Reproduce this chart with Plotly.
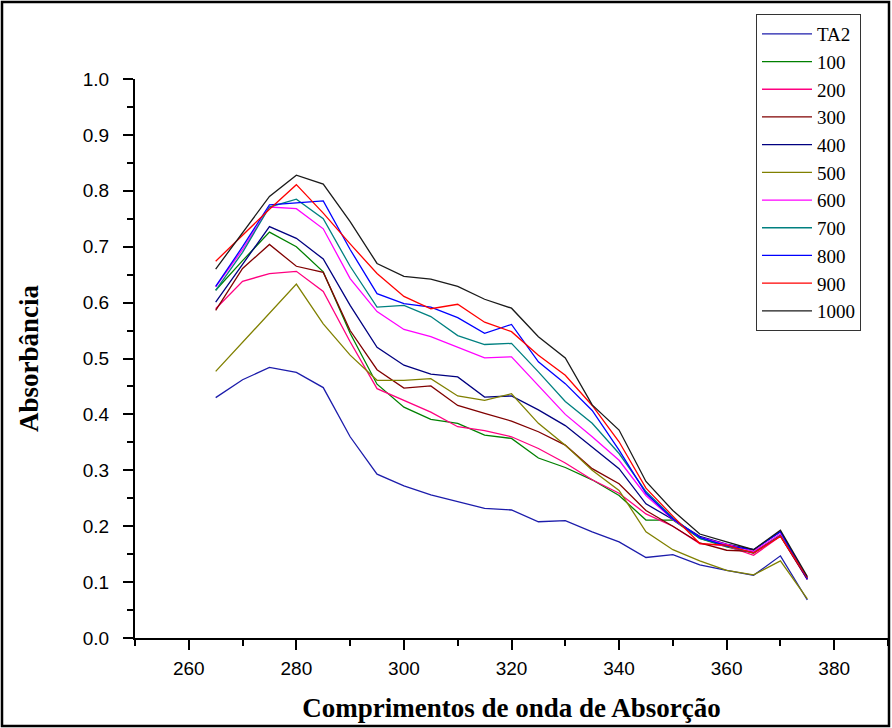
import plotly.graph_objects as go

wavelength = [265, 270, 275, 280, 285, 290, 295, 300, 305, 310, 315, 320,
              325, 330, 335, 340, 345, 350, 355, 360, 365, 370, 375]

s_TA2 = [0.430, 0.462, 0.484, 0.475, 0.448, 0.360, 0.293, 0.272, 0.256, 0.244, 0.232, 0.229,
         0.208, 0.210, 0.190, 0.172, 0.144, 0.149, 0.131, 0.121, 0.112, 0.147, 0.068]
s_100 = [0.622, 0.675, 0.726, 0.700, 0.655, 0.545, 0.454, 0.413, 0.391, 0.384, 0.363, 0.357,
         0.322, 0.305, 0.283, 0.255, 0.211, 0.211, 0.178, 0.163, 0.152, 0.184, 0.107]
s_200 = [0.589, 0.638, 0.652, 0.656, 0.620, 0.530, 0.446, 0.425, 0.404, 0.378, 0.371, 0.360,
         0.339, 0.313, 0.283, 0.259, 0.222, 0.200, 0.169, 0.165, 0.148, 0.182, 0.105]
s_300 = [0.586, 0.661, 0.704, 0.665, 0.654, 0.550, 0.480, 0.447, 0.451, 0.416, 0.402, 0.388,
         0.369, 0.345, 0.303, 0.276, 0.228, 0.200, 0.170, 0.157, 0.155, 0.182, 0.105]
s_400 = [0.601, 0.668, 0.736, 0.715, 0.678, 0.595, 0.520, 0.488, 0.472, 0.467, 0.431, 0.433,
         0.408, 0.380, 0.342, 0.303, 0.240, 0.212, 0.182, 0.168, 0.158, 0.190, 0.107]
s_500 = [0.477, 0.529, 0.581, 0.633, 0.562, 0.506, 0.461, 0.461, 0.464, 0.433, 0.425, 0.437,
         0.384, 0.345, 0.300, 0.264, 0.190, 0.158, 0.138, 0.121, 0.113, 0.138, 0.070]
s_600 = [0.628, 0.695, 0.771, 0.768, 0.732, 0.643, 0.584, 0.552, 0.539, 0.520, 0.501, 0.503,
         0.452, 0.400, 0.360, 0.318, 0.255, 0.212, 0.180, 0.167, 0.155, 0.186, 0.108]
s_700 = [0.622, 0.690, 0.771, 0.785, 0.750, 0.665, 0.592, 0.595, 0.575, 0.541, 0.525, 0.527,
         0.476, 0.423, 0.384, 0.330, 0.262, 0.215, 0.178, 0.165, 0.152, 0.183, 0.108]
s_800 = [0.629, 0.700, 0.775, 0.778, 0.782, 0.695, 0.616, 0.598, 0.592, 0.573, 0.545, 0.561,
         0.494, 0.455, 0.407, 0.336, 0.259, 0.213, 0.180, 0.165, 0.158, 0.190, 0.105]
s_900 = [0.674, 0.721, 0.767, 0.811, 0.760, 0.705, 0.652, 0.611, 0.589, 0.597, 0.565, 0.548,
         0.506, 0.470, 0.416, 0.351, 0.268, 0.218, 0.169, 0.166, 0.152, 0.182, 0.108]
s_1000 = [0.660, 0.725, 0.790, 0.828, 0.812, 0.745, 0.670, 0.647, 0.642, 0.629, 0.606, 0.590,
          0.539, 0.501, 0.417, 0.372, 0.280, 0.228, 0.186, 0.172, 0.158, 0.193, 0.110]

series_names = ["TA2", "100", "200", "300", "400", "500", "600", "700", "800", "900", "1000"]
series_values = [s_TA2, s_100, s_200, s_300, s_400, s_500, s_600, s_700, s_800, s_900, s_1000]
series_colors = ["#1c1cab", "#008000", "#ff0080", "#800000", "#000080", "#808000",
                 "#ff00ff", "#008080", "#0000ff", "#ff0000", "#1a1a1a"]

fig = go.Figure()
for name, vals, col in zip(series_names, series_values, series_colors):
    fig.add_trace(go.Scatter(x=wavelength, y=vals, mode="lines", name=name,
                             line=dict(color=col, width=1.3)))

W, H = 892, 728
L, R, T, B = 135, 4, 79, 90
pw, ph = W - L - R, H - T - B

def px2paper(x, y):
    return (x - L) / pw, (H - B - y) / ph

bx0, by0 = px2paper(2, 726)
bx1, by1 = px2paper(889, 2)

tickfont = dict(family="Liberation Sans Narrow, Liberation Sans, Arial", size=19, color="black")
titlefont = dict(family="Liberation Serif, Times New Roman", size=27, color="black", weight="bold")

fig.update_layout(
    width=W, height=H,
    margin=dict(l=L, r=R, t=T, b=B, autoexpand=False),
    paper_bgcolor="white", plot_bgcolor="white",
    showlegend=True,
    legend=dict(x=(756 - L) / pw, y=px2paper(0, 14)[1], xanchor="left", yanchor="top",
                font=dict(family="Liberation Serif", size=19, color="black"),
                bordercolor="#333333", borderwidth=1, bgcolor="white",
                itemwidth=50, tracegroupgap=0),
    xaxis=dict(range=[250, 390], tick0=260, dtick=20, ticks="outside", ticklen=10, tickwidth=2,
               tickcolor="black", ticklabelstandoff=2,
               showline=True, linecolor="black", linewidth=2, showgrid=False, zeroline=False,
               automargin=False, tickfont=tickfont,
               minor=dict(dtick=10, tick0=250, ticks="outside", ticklen=6, tickwidth=2, tickcolor="black"),
               title=dict(text="Comprimentos de onda de Absorção", standoff=20, font=titlefont)),
    yaxis=dict(range=[0, 1.0], tick0=0, dtick=0.1, tickformat=".1f", ticks="outside", ticklen=10,
               tickwidth=2, tickcolor="black", ticklabelstandoff=10,
               showline=True, linecolor="black", linewidth=2, showgrid=False,
               zeroline=False, automargin=False, tickfont=tickfont,
               minor=dict(dtick=0.05, ticks="outside", ticklen=6, tickwidth=2, tickcolor="black"),
               title=dict(text="Absorbância", standoff=36, font=titlefont)),
    shapes=[dict(type="rect", xref="paper", yref="paper", x0=bx0, y0=by0, x1=bx1, y1=by1,
                 line=dict(color="black", width=2.5), fillcolor="rgba(0,0,0,0)", layer="above")],
)

fig.write_html("out.html", config={"displayModeBar": False},
               post_script="document.body.style.margin='0px';document.body.style.overflow='hidden';")
